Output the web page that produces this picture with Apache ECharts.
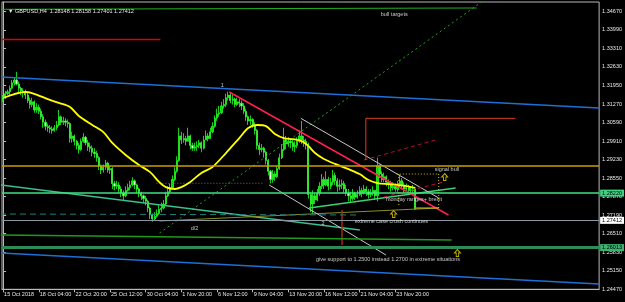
<!DOCTYPE html>
<html>
<head>
<meta charset="utf-8">
<title>GBPUSD,H4</title>
<script src="https://cdn.jsdelivr.net/npm/echarts@6/dist/echarts.min.js"></script>
<style>
  html, body { margin: 0; padding: 0; background: #000; }
  #chart { width: 625px; height: 302px; }
</style>
</head>
<body>
<div id="chart"></div>
<script>
// time axis labels, one every 16 H4 bars
const tickLabels = ['15 Oct 2018', '18 Oct 04:00', '22 Oct 20:00', '25 Oct 12:00', '30 Oct 04:00', '1 Nov 20:00',
    '6 Nov 12:00', '9 Nov 04:00', '13 Nov 20:00', '16 Nov 12:00', '21 Nov 04:00', '23 Nov 20:00'];
const slotCount = 268; // bars + empty right shift

// candles (H4)
const closes = [
    1.3150, 1.3165, 1.3172, 1.3185, 1.3205, 1.3215, 1.3200, 1.3185, 1.3175, 1.3170,
    1.3160, 1.3140, 1.3125, 1.3135, 1.3105, 1.3115, 1.3100, 1.3080, 1.3060, 1.3045,
    1.3040, 1.3035, 1.3030, 1.3040, 1.3050, 1.3080, 1.3060, 1.3065, 1.3060, 1.3055,
    1.3000, 1.3010, 1.2990, 1.2975, 1.2960, 1.2990, 1.3005, 1.2985, 1.2970, 1.2965,
    1.2950, 1.2945, 1.2930, 1.2900, 1.2885, 1.2895, 1.2910, 1.2885, 1.2890, 1.2835,
    1.2825, 1.2830, 1.2815, 1.2800, 1.2790, 1.2810, 1.2820, 1.2830, 1.2845, 1.2830,
    1.2815, 1.2800, 1.2790, 1.2780, 1.2770, 1.2745, 1.2720, 1.2705, 1.2715, 1.2725,
    1.2740, 1.2745, 1.2760, 1.2790, 1.2805, 1.2820, 1.2850, 1.2880, 1.2920, 1.3010,
    1.2995, 1.3000, 1.2990, 1.3010, 1.2975, 1.2965, 1.2970, 1.2975, 1.2985, 1.2965,
    1.2995, 1.3010, 1.3000, 1.3025, 1.3045, 1.3075, 1.3090, 1.3095, 1.3120, 1.3125,
    1.3150, 1.3160, 1.3140, 1.3145, 1.3125, 1.3135, 1.3130, 1.3120, 1.3100, 1.3080,
    1.3065, 1.3070, 1.3050, 1.3030, 1.2975, 1.2960, 1.2965, 1.2950, 1.2920, 1.2880,
    1.2850, 1.2870, 1.2860, 1.2890, 1.2930, 1.2960, 1.2995, 1.2980, 1.2990, 1.2985,
    1.2970, 1.2975, 1.2990, 1.3010, 1.2995, 1.2990, 1.2980, 1.2795, 1.2760, 1.2790,
    1.2775, 1.2800, 1.2825, 1.2850, 1.2830, 1.2850, 1.2825, 1.2840, 1.2865, 1.2845,
    1.2825, 1.2830, 1.2835, 1.2815, 1.2800, 1.2790, 1.2780, 1.2800, 1.2785, 1.2795,
    1.2810, 1.2800, 1.2815, 1.2805, 1.2795, 1.2800, 1.2810, 1.2790, 1.2900, 1.2870,
    1.2850, 1.2860, 1.2840, 1.2835, 1.2820, 1.2825, 1.2815, 1.2830, 1.2845, 1.2830,
    1.2815, 1.2820, 1.2810, 1.2810, 1.28148, 1.27412
];
const opens = [
    1.3140, 1.3150, 1.3165, 1.3172, 1.3185, 1.3205, 1.3215, 1.3200, 1.3185, 1.3175,
    1.3170, 1.3160, 1.3140, 1.3125, 1.3135, 1.3105, 1.3115, 1.3100, 1.3080, 1.3060,
    1.3045, 1.3040, 1.3035, 1.3030, 1.3040, 1.3050, 1.3080, 1.3060, 1.3065, 1.3060,
    1.3055, 1.3000, 1.3010, 1.2990, 1.2975, 1.2960, 1.2990, 1.3005, 1.2985, 1.2970,
    1.2965, 1.2950, 1.2945, 1.2930, 1.2900, 1.2885, 1.2895, 1.2910, 1.2885, 1.2890,
    1.2835, 1.2825, 1.2830, 1.2815, 1.2800, 1.2790, 1.2810, 1.2820, 1.2830, 1.2845,
    1.2830, 1.2815, 1.2800, 1.2790, 1.2780, 1.2770, 1.2745, 1.2720, 1.2705, 1.2715,
    1.2725, 1.2740, 1.2745, 1.2760, 1.2790, 1.2805, 1.2820, 1.2850, 1.2880, 1.2920,
    1.3010, 1.2995, 1.3000, 1.2990, 1.3010, 1.2975, 1.2965, 1.2970, 1.2975, 1.2985,
    1.2965, 1.2995, 1.3010, 1.3000, 1.3025, 1.3045, 1.3075, 1.3090, 1.3095, 1.3120,
    1.3125, 1.3150, 1.3160, 1.3140, 1.3145, 1.3125, 1.3135, 1.3130, 1.3120, 1.3100,
    1.3080, 1.3065, 1.3070, 1.3050, 1.3030, 1.2975, 1.2960, 1.2965, 1.2950, 1.2920,
    1.2880, 1.2850, 1.2870, 1.2860, 1.2890, 1.2930, 1.2960, 1.2995, 1.2980, 1.2990,
    1.2985, 1.2970, 1.2975, 1.2990, 1.3010, 1.2995, 1.2990, 1.2980, 1.2795, 1.2760,
    1.2790, 1.2775, 1.2800, 1.2825, 1.2850, 1.2830, 1.2850, 1.2825, 1.2840, 1.2865,
    1.2845, 1.2825, 1.2830, 1.2835, 1.2815, 1.2800, 1.2790, 1.2780, 1.2800, 1.2785,
    1.2795, 1.2810, 1.2800, 1.2815, 1.2805, 1.2795, 1.2800, 1.2810, 1.2790, 1.2900,
    1.2870, 1.2850, 1.2860, 1.2840, 1.2835, 1.2820, 1.2825, 1.2815, 1.2830, 1.2845,
    1.2830, 1.2815, 1.2820, 1.2810, 1.2810, 1.28148
];
const highs = [
    1.3160, 1.3175, 1.3180, 1.3195, 1.3215, 1.3225, 1.3245, 1.3210, 1.3190, 1.3185,
    1.3180, 1.3170, 1.3150, 1.3150, 1.3140, 1.3130, 1.3125, 1.3110, 1.3090, 1.3070,
    1.3055, 1.3050, 1.3045, 1.3050, 1.3065, 1.3105, 1.3085, 1.3080, 1.3075, 1.3070,
    1.3060, 1.3025, 1.3015, 1.2995, 1.2985, 1.3000, 1.3020, 1.3010, 1.2995, 1.2985,
    1.2975, 1.2965, 1.2955, 1.2935, 1.2905, 1.2905, 1.2922, 1.2915, 1.2900, 1.2895,
    1.2845, 1.2845, 1.2840, 1.2825, 1.2810, 1.2825, 1.2835, 1.2845, 1.2858, 1.2850,
    1.2835, 1.2820, 1.2805, 1.2795, 1.2790, 1.2775, 1.2750, 1.2725, 1.2730, 1.2740,
    1.2755, 1.2765, 1.2775, 1.2805, 1.2825, 1.2835, 1.2865, 1.2895, 1.2935, 1.3040,
    1.3025, 1.3020, 1.3010, 1.3040, 1.3015, 1.2985, 1.2985, 1.2990, 1.2995, 1.2990,
    1.3010, 1.3030, 1.3020, 1.3040, 1.3060, 1.3085, 1.3110, 1.3120, 1.3135, 1.3145,
    1.3165, 1.3172, 1.3168, 1.3160, 1.3150, 1.3150, 1.3145, 1.3140, 1.3130, 1.3110,
    1.3085, 1.3085, 1.3075, 1.3060, 1.3035, 1.2985, 1.2980, 1.2970, 1.2955, 1.2925,
    1.2885, 1.2885, 1.2880, 1.2900, 1.2945, 1.2980, 1.3040, 1.3010, 1.3005, 1.3000,
    1.2995, 1.2990, 1.3005, 1.3030, 1.3065, 1.3010, 1.3000, 1.2985, 1.2805, 1.2810,
    1.2800, 1.2815, 1.2840, 1.2870, 1.2860, 1.2880, 1.2860, 1.2855, 1.2885, 1.2875,
    1.2855, 1.2850, 1.2850, 1.2845, 1.2830, 1.2815, 1.2805, 1.2815, 1.2805, 1.2810,
    1.2825, 1.2820, 1.2830, 1.2825, 1.2815, 1.2815, 1.2825, 1.2810, 1.2930, 1.2905,
    1.2880, 1.2875, 1.2865, 1.2850, 1.2845, 1.2840, 1.2835, 1.2845, 1.2866, 1.2855,
    1.2840, 1.2835, 1.2830, 1.2825, 1.2830, 1.28158
];
const lows = [
    1.3135, 1.3145, 1.3160, 1.3160, 1.3180, 1.3195, 1.3195, 1.3170, 1.3160, 1.3150,
    1.3145, 1.3130, 1.3110, 1.3115, 1.3095, 1.3095, 1.3090, 1.3070, 1.3040, 1.3030,
    1.3025, 1.3020, 1.3018, 1.3025, 1.3030, 1.3045, 1.3050, 1.3050, 1.3045, 1.3040,
    1.2985, 1.2985, 1.2975, 1.2960, 1.2945, 1.2955, 1.2985, 1.2975, 1.2955, 1.2950,
    1.2935, 1.2930, 1.2915, 1.2885, 1.2870, 1.2875, 1.2885, 1.2875, 1.2870, 1.2815,
    1.2810, 1.2815, 1.2800, 1.2785, 1.2775, 1.2785, 1.2805, 1.2810, 1.2825, 1.2815,
    1.2800, 1.2785, 1.2775, 1.2765, 1.2755, 1.2730, 1.2705, 1.2695, 1.2700, 1.2710,
    1.2720, 1.2730, 1.2740, 1.2755, 1.2785, 1.2800, 1.2815, 1.2845, 1.2875, 1.2915,
    1.2980, 1.2985, 1.2975, 1.2990, 1.2960, 1.2955, 1.2955, 1.2955, 1.2965, 1.2950,
    1.2960, 1.2995, 1.2990, 1.3000, 1.3020, 1.3040, 1.3065, 1.3080, 1.3090, 1.3110,
    1.3115, 1.3140, 1.3130, 1.3125, 1.3115, 1.3120, 1.3115, 1.3105, 1.3090, 1.3065,
    1.3050, 1.3050, 1.3040, 1.3015, 1.2960, 1.2940, 1.2950, 1.2930, 1.2905, 1.2865,
    1.2835, 1.2838, 1.2845, 1.2855, 1.2885, 1.2925, 1.2955, 1.2960, 1.2970, 1.2965,
    1.2955, 1.2950, 1.2965, 1.2985, 1.2980, 1.2970, 1.2960, 1.2780, 1.2730, 1.2724,
    1.2760, 1.2770, 1.2790, 1.2815, 1.2815, 1.2825, 1.2810, 1.2815, 1.2830, 1.2830,
    1.2805, 1.2810, 1.2815, 1.2800, 1.2790, 1.2770, 1.2765, 1.2772, 1.2775, 1.2780,
    1.2790, 1.2785, 1.2795, 1.2790, 1.2780, 1.2785, 1.2790, 1.2775, 1.2770, 1.2855,
    1.2840, 1.2840, 1.2825, 1.2815, 1.2805, 1.2810, 1.2805, 1.2805, 1.2820, 1.2815,
    1.2800, 1.2805, 1.2798, 1.2795, 1.2800, 1.27401
];

// yellow moving average: [bar, price]
const maPoints = [
    [0, 1.3149], [10, 1.3171], [13, 1.3167], [21, 1.3142], [25, 1.3131], [30, 1.3116], [34, 1.3083],
    [40, 1.3050], [45, 1.3024], [49, 1.2984], [55, 1.2940], [61, 1.2903], [66, 1.2877], [70, 1.2841],
    [73, 1.2822], [77, 1.2815], [80, 1.2822], [84, 1.2841], [89, 1.2874], [94, 1.2896], [100, 1.2947],
    [106, 1.3002], [110, 1.3039], [114, 1.3050], [118, 1.3046], [122, 1.3017], [126, 1.3002],
    [130, 1.2998], [134, 1.2991], [137, 1.2973], [140, 1.2947], [144, 1.2925], [149, 1.2907],
    [155, 1.2888], [160, 1.2870], [164, 1.2848], [168, 1.2837], [173, 1.2833], [177, 1.2830],
    [181, 1.2826], [185, 1.2819]
];

// horizontal levels
const levelGold = 1.29314;
const levelGreen = 1.28220;
const levelBid = 1.27412;
const levelSupport = 1.26013;

// drawn objects, as [bar, price] end points
const trendLines = {
    redLevel: [[-1, 1.33637], [70.6, 1.33637]],
    bullTargets: [[-1, 1.34745], [212.5, 1.34793]],
    dottedUp: [[70.2, 1.26536], [214.7, 1.35013]],
    channelTop: [[-1.4, 1.32261], [267.5, 1.31123]],
    channelBottom: [[-1.4, 1.25802], [267.5, 1.24665]],
    mintFall: [[-1.4, 1.28298], [160.1, 1.26646]],
    oliveRise: [[70.2, 1.26976], [195.5, 1.27453]],
    greenRise: [[137.3, 1.27453], [203.1, 1.28187]],
    whiteA: [[133.6, 1.30745], [195.5, 1.27820]],
    whiteB: [[119.4, 1.28298], [171.8, 1.25729]],
    redTrend: [[101.5, 1.31710], [199.9, 1.27197]],
    redDashUp: [[161.9, 1.29215], [194.1, 1.29949]],
    redDashLow: [[170.9, 1.27857], [197.7, 1.28408]],
    orangeV: [[162.8, 1.30745], [162.8, 1.29215]],
    orangeH: [[162.8, 1.30745], [229.9, 1.30745]],
    brownV: [[152.1, 1.27380], [152.1, 1.26096]],
    boxTop: [[176.7, 1.28701], [195.5, 1.28701]],
    boxLeft: [[177.6, 1.28701], [177.6, 1.27490]],
    boxRight: [[195.5, 1.28701], [195.5, 1.27453]],
    boxBase: [[185.2, 1.27453], [195.5, 1.27453]],
    greyDots: [[68.8, 1.28360], [117.2, 1.28360]],
    tealDash: [[-1.4, 1.27233], [159.7, 1.27197]],
    greenLow: [[-1.4, 1.26463], [201.3, 1.26279]]
};

// text notes: [bar, price, text]
const notes = [
    [169.5, 1.34573, 'bull targets'],
    [98.4, 1.31967, '1'],
    [193.7, 1.28885, 'signal bull'],
    [171.8, 1.27784, 'monday ranges+ brexit'],
    [157.9, 1.26976, 'extreme case crush continues'],
    [143.6, 1.26903, '2'],
    [85.9, 1.26720, 'd/2'],
    [140.4, 1.25582, 'give support to 1.2500 instead 1.2700 in extreme situations']
];
const arrows = [[198.2, 1.28591], [175.3, 1.27233], [203.9, 1.25802]];

const FONT = 'Liberation Sans';
const lineStyles = {
    redLevel: ['#e00000', 1.5, 'solid'],
    bullTargets: ['#22b022', 1, 'solid'],
    dottedUp: ['#22a022', 1, [2, 3]],
    channelTop: ['#1e70d8', 1.5, 'solid'],
    channelBottom: ['#1e70d8', 1.5, 'solid'],
    mintFall: ['#3cc090', 1.5, 'solid'],
    oliveRise: ['#8c8c20', 1, 'solid'],
    greenRise: ['#40d070', 1.5, 'solid'],
    whiteA: ['#c8c8c8', 1, 'solid'],
    whiteB: ['#c8c8c8', 1, 'solid'],
    redTrend: ['#ff2050', 1.5, 'solid'],
    redDashUp: ['#b01030', 1, [4, 3]],
    redDashLow: ['#c01030', 1, [4, 3]],
    orangeV: ['#e03c1c', 1, 'solid'],
    orangeH: ['#e03c1c', 1, 'solid'],
    brownV: ['#a02a10', 1.5, 'solid'],
    boxTop: ['#d0c000', 1, [1, 2]],
    boxLeft: ['#d0c000', 1, [1, 2]],
    boxRight: ['#d0c000', 1, [1, 2]],
    boxBase: ['#d0d000', 1, 'solid'],
    greyDots: ['#707070', 1, [1, 2]],
    tealDash: ['#1f8080', 1, [6, 4]],
    greenLow: ['#1f9a1f', 1.5, 'solid']
};

function segment(name) {
    const [color, width, type] = lineStyles[name];
    return {
        type: 'line', xAxisIndex: 1, data: trendLines[name], symbol: 'none', silent: true,
        lineStyle: { color, width, type }, z: 3
    };
}

function level(value, color, width, box, textColor) {
    const item = { yAxis: value, lineStyle: { color, width, type: 'solid' }, label: { show: false } };
    if (box) {
        item.label = {
            show: true, position: 'end', distance: 1, formatter: value.toFixed(5),
            backgroundColor: box, color: textColor, fontSize: 5.5, fontFamily: FONT, padding: [1, 2, 0, 2]
        };
    }
    return item;
}

const categories = [];
for (let i = 0; i < slotCount; i++) {
    categories.push(i % 16 === 0 && i / 16 < tickLabels.length ? tickLabels[i / 16] : '');
}
const showTick = (i) => i % 16 === 0 && i / 16 < tickLabels.length;

const candles = closes.map((c, i) => [opens[i], c, lows[i], highs[i]]);

const chart = echarts.init(document.getElementById('chart'), null, { renderer: 'canvas' });

const option = {
    backgroundColor: '#000',
    animation: false,
    title: {
        text: '\u25BC GBPUSD,H4  1.28148 1.28158 1.27401 1.27412',
        left: 3, top: 3,
        textStyle: { color: '#e8e8e8', fontSize: 5.5, fontWeight: 'normal', fontFamily: FONT }
    },
    grid: {
        left: 2, top: 2, right: 24, bottom: 12.7,
        show: true, borderColor: '#b8b8b8', borderWidth: 1, backgroundColor: '#000'
    },
    xAxis: [{
        type: 'category',
        data: categories,
        boundaryGap: true,
        axisLine: { lineStyle: { color: '#b8b8b8' } },
        axisTick: { show: true, alignWithLabel: true, length: 3, interval: showTick, lineStyle: { color: '#b8b8b8' } },
        axisLabel: {
            interval: showTick, align: 'left', margin: 2, padding: [0, 0, 0, 1],
            color: '#e8e8e8', fontSize: 5.5, fontFamily: FONT
        },
        splitLine: { show: false }
    }, {
        type: 'value', min: -0.5, max: slotCount - 0.5, show: false
    }],
    yAxis: {
        type: 'value',
        position: 'right',
        min: 1.2447, max: 1.35013, interval: 0.0068,
        axisLine: { show: true, lineStyle: { color: '#b8b8b8' } },
        axisTick: { show: true, length: 3, lineStyle: { color: '#b8b8b8' } },
        axisLabel: {
            color: '#e8e8e8', fontSize: 5.5, fontFamily: FONT, margin: 3,
            showMaxLabel: false, formatter: (v) => v.toFixed(5)
        },
        splitLine: { show: false }
    },
    series: [
        {
            type: 'candlestick',
            data: candles,
            barWidth: '75%',
            itemStyle: {
                color: '#00e000', color0: '#f0fff0',
                borderColor: '#22ff22', borderColor0: '#22ff22', borderWidth: 0.8
            },
            markLine: {
                silent: true, symbol: ['none', 'none'], animation: false,
                data: [
                    level(levelGold, '#c8a000', 1.5),
                    level(levelGreen, '#40e080', 1.5, '#40d080', '#000'),
                    level(levelBid, '#8a96a0', 1, '#ffffff', '#000'),
                    level(levelSupport, '#2e8b57', 3, '#3cb371', '#000')
                ]
            },
            z: 2
        },
        ...Object.keys(trendLines).map(segment),
        {
            type: 'line', xAxisIndex: 1, data: maPoints, smooth: 0.3, symbol: 'none', silent: true,
            lineStyle: { color: '#ffff00', width: 1.8 }, z: 4
        },
        {
            type: 'scatter', xAxisIndex: 1, symbolSize: 0, silent: true, clip: false, z: 5,
            data: notes.map(([b, p, text]) => ({
                value: [b, p],
                label: { formatter: text, align: text.length > 3 ? 'left' : 'center' }
            })),
            label: {
                show: true, position: 'inside', verticalAlign: 'middle',
                color: '#f0f0f0', fontSize: 5.5, fontFamily: FONT
            }
        },
        {
            type: 'scatter', xAxisIndex: 1, silent: true, clip: false, z: 5,
            symbol: 'path://M5,0 L10,5 L7,5 L7,10 L3,10 L3,5 L0,5 Z',
            symbolSize: [6, 7],
            itemStyle: { color: 'rgba(0,0,0,0)', borderColor: '#e8d800', borderWidth: 1 },
            data: arrows
        }
    ]
};

chart.setOption(option);
</script>
</body>
</html>
